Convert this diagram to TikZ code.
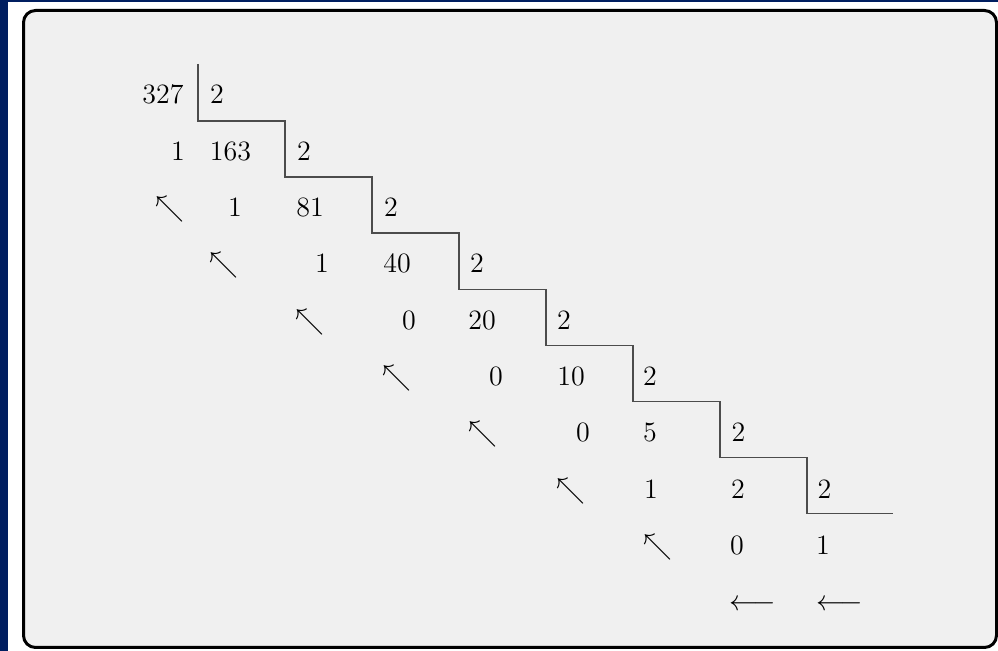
\documentclass[tikz,border=0pt]{standalone}
\begin{document}
\begin{tikzpicture}[x=0.5pt,y=-0.5pt,
  num/.style={anchor=base,inner sep=0pt,font=\fontsize{14}{17}\selectfont},
  rulepath/.style={draw=black!70,line width=0.7pt},
  panelbox/.style={draw=black,line width=1.5pt,fill=panelgray,rounded corners=6pt}]
\definecolor{navyblue}{RGB}{0,30,96}
\definecolor{panelgray}{RGB}{240,240,240}
\useasboundingbox (0,0) rectangle (998,651);
\fill[white] (0,0) rectangle (998,651);
\fill[navyblue] (0,0) rectangle (998,2);
\fill[navyblue] (0,0) rectangle (8,651);
\draw[panelbox] (23.5,10.5) rectangle (996.5,647.5);
% staircase
\draw[rulepath] (198,64) -- (198,121) -- (285,121) -- (285,177.1) -- (372,177.1)
  -- (372,233.2) -- (459,233.2) -- (459,289.3) -- (546,289.3) -- (546,345.4)
  -- (633,345.4) -- (633,401.5) -- (720,401.5) -- (720,457.6) -- (807,457.6)
  -- (807,513.7) -- (893,513.7);
% row 1
\node[num] (q0) at (163,104) {327};
\node[num] (d1) at (217,104) {2};
% row 2
\node[num] (r1) at (178,160.3) {1};
\node[num] (q1) at (230.5,160.3) {163};
\node[num] (d2) at (304,160.3) {2};
% row 3
\node[num] (a3) at (170,216.6) {$\nwarrow$};
\node[num] (r2) at (235,216.6) {1};
\node[num] (q2) at (310,216.6) {81};
\node[num] (d3) at (391,216.6) {2};
% row 4
\node[num] (a4) at (223.5,272.9) {$\nwarrow$};
\node[num] (r3) at (322,272.9) {1};
\node[num] (q3) at (397,272.9) {40};
\node[num] (d4) at (477,272.9) {2};
% row 5
\node[num] (a5) at (310,329.2) {$\nwarrow$};
\node[num] (r4) at (409,329.2) {0};
\node[num] (q4) at (482,329.2) {20};
\node[num] (d5) at (564,329.2) {2};
% row 6
\node[num] (a6) at (397,385.5) {$\nwarrow$};
\node[num] (r5) at (496,385.5) {0};
\node[num] (q5) at (571,385.5) {10};
\node[num] (d6) at (650,385.5) {2};
% row 7
\node[num] (a7) at (483,441.8) {$\nwarrow$};
\node[num] (r6) at (583,441.8) {0};
\node[num] (q6) at (650,441.8) {5};
\node[num] (d7) at (738.5,441.8) {2};
% row 8
\node[num] (a8) at (571,498.1) {$\nwarrow$};
\node[num] (r7) at (651,498.1) {1};
\node[num] (q7) at (738,498.1) {2};
\node[num] (d8) at (824.5,498.1) {2};
% row 9
\node[num] (a9) at (658,554.4) {$\nwarrow$};
\node[num] (r8) at (737,554.4) {0};
\node[num] (q8) at (823,554.4) {1};
% row 10
\node[num] (l1) at (753,610.7) {$\longleftarrow$};
\node[num] (l2) at (840,610.7) {$\longleftarrow$};
\end{tikzpicture}
\end{document}
